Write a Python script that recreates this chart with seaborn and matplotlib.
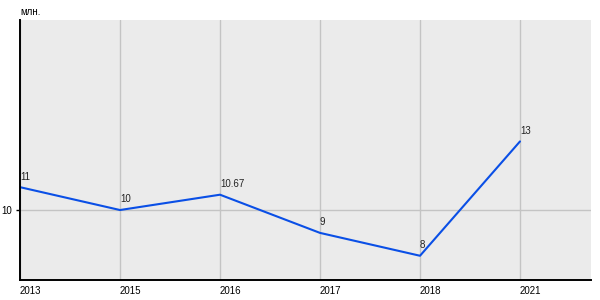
import matplotlib
matplotlib.use("Agg")
import matplotlib.pyplot as plt
import seaborn as sns
import pandas as pd

years = ["2013", "2015", "2016", "2017", "2018", "2021"]
values = [11, 10, 10.67, 9, 8, 13]
labels = ["11", "10", "10.67", "9", "8", "13"]
y_ticks = [10]
unit = "млн."

sns.set_theme(style="white")
plt.rcParams["font.family"] = ["Liberation Sans", "DejaVu Sans"]

df = pd.DataFrame({"year": years, "value": values})
df["pos"] = range(len(years))

fig = plt.figure(figsize=(6, 3), dpi=100)
ax = fig.add_axes([20 / 600, 20 / 300, 571 / 600, 260 / 300])
ax.set_facecolor("#ebebeb")

sns.lineplot(data=df, x="pos", y="value", ax=ax, color="#0a4fe6", linewidth=1.5, sort=False)

for x, y, t in zip(df["pos"], values, labels):
    ax.annotate(t, (x, y), xytext=(0, 4), textcoords="offset points",
                ha="left", va="bottom", fontsize=7, color="#222222")

ax.set_xlim(0, 5.71)
ax.set_ylim(6.94, 18.31)
ax.set_xticks(df["pos"])
ax.set_xticklabels(years, ha="left")
ax.set_yticks(y_ticks)
ax.set_yticklabels([str(v) for v in y_ticks])
ax.grid(True, color="#c4c4c4", linewidth=1)
ax.set_axisbelow(True)
ax.set_xlabel("")
ax.set_ylabel("")
for s in ["top", "right"]:
    ax.spines[s].set_visible(False)
for s in ["left", "bottom"]:
    ax.spines[s].set_color("black")
    ax.spines[s].set_linewidth(1.4)
ax.tick_params(axis="x", length=0, pad=4, labelsize=7, colors="black")
ax.tick_params(axis="y", length=3, width=1, pad=3, labelsize=7, colors="black", left=True)
fig.text(20 / 600, 1 - 12 / 300, unit, fontsize=7, ha="left", va="center", color="black")

fig.savefig("out.png", dpi=100)
